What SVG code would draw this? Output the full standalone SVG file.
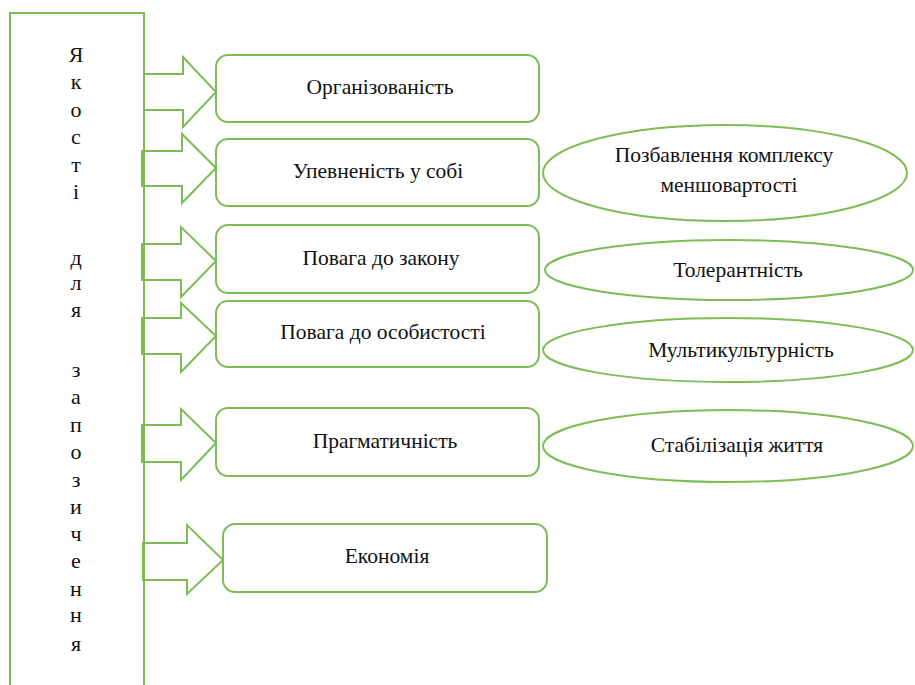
<svg xmlns="http://www.w3.org/2000/svg" width="915" height="685" viewBox="0 0 915 685">
<style>
.ln{fill:none;stroke:#7dbd55;stroke-width:2;stroke-linejoin:miter}
.bx{fill:#fff;stroke:#7dbd55;stroke-width:2}
.el{fill:#fff;stroke:#7dbd55;stroke-width:2}
.t{font-family:"Liberation Serif","Times New Roman",serif;font-size:21.5px;fill:#111;text-anchor:middle}
.v{font-family:"Liberation Serif","Times New Roman",serif;font-size:22px;fill:#111;text-anchor:middle}
</style>
<rect width="915" height="685" fill="#fff"/>
<g id="main">
<path class="ln" d="M10,685 V13 H144 V685"/>
<text class="v" x="76" y="62" font-size="24">Я</text>
<text class="v" x="76" y="89">к</text>
<text class="v" x="76" y="117">о</text>
<text class="v" x="76" y="144">с</text>
<text class="v" x="76" y="172">т</text>
<text class="v" x="76" y="199">і</text>
<text class="v" x="76" y="265">д</text>
<text class="v" x="76" y="290">л</text>
<text class="v" x="76" y="317">я</text>
<text class="v" x="76" y="377">з</text>
<text class="v" x="76" y="404">а</text>
<text class="v" x="76" y="432">п</text>
<text class="v" x="76" y="459">о</text>
<text class="v" x="76" y="487">з</text>
<text class="v" x="76" y="514">и</text>
<text class="v" x="76" y="541">ч</text>
<text class="v" x="76" y="568">е</text>
<text class="v" x="76" y="596">н</text>
<text class="v" x="76" y="622">н</text>
<text class="v" x="76" y="651">я</text>
</g>
<g id="connectors">
<polygon class="ln" points="144,74 183,74 183,57 216,92 183,127 183,110 144,110"/>
<polygon class="ln" points="142,151 182,151 182,134 216,168 182,203 182,186 142,186"/>
<polygon class="ln" points="142,244 181,244 181,227 216,261 181,297 181,280 142,280"/>
<polygon class="ln" points="142,318 181,318 181,303 216,336 181,372 181,354 142,354"/>
<polygon class="ln" points="142,425 181,425 181,409 216,443 181,480 181,462 142,462"/>
<polygon class="ln" points="143,543 187,543 187,525 223,560 187,594 187,580 143,580"/>
</g>
<g id="n1"><rect class="bx" x="216" y="55" width="323" height="67" rx="12"/><text class="t" x="380" y="94">Організованість</text></g>
<g id="n2"><rect class="bx" x="216" y="139" width="323" height="67" rx="12"/><text class="t" x="378" y="178">Упевненість у собі</text></g>
<g id="n3"><rect class="bx" x="216" y="225" width="323" height="68" rx="12"/><text class="t" x="381" y="265">Повага до закону</text></g>
<g id="n4"><rect class="bx" x="216" y="301" width="323" height="66" rx="12"/><text class="t" x="383" y="339">Повага до особистості</text></g>
<g id="n5"><rect class="bx" x="216" y="408" width="323" height="68" rx="12"/><text class="t" x="385" y="448">Прагматичність</text></g>
<g id="n6"><rect class="bx" x="223" y="524" width="324" height="68" rx="12"/><text class="t" x="387" y="563">Економія</text></g>
<g id="e1"><ellipse class="el" cx="725" cy="173" rx="182" ry="48"/><text class="t" x="724" y="162">Позбавлення комплексу</text><text class="t" x="729" y="192">меншовартості</text></g>
<g id="e2"><ellipse class="el" cx="729" cy="270" rx="184" ry="30"/><text class="t" x="738" y="277">Толерантність</text></g>
<g id="e3"><ellipse class="el" cx="728" cy="350" rx="185" ry="32"/><text class="t" x="741" y="357">Мультикультурність</text></g>
<g id="e4"><ellipse class="el" cx="728" cy="446" rx="185" ry="36"/><text class="t" x="737" y="452">Стабілізація життя</text></g>
</svg>
